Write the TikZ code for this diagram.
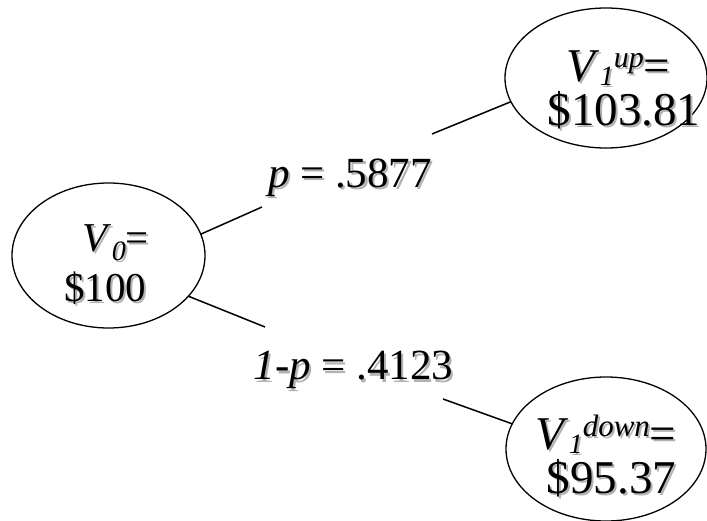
\documentclass[tikz,border=0pt]{standalone}
\usepackage{fontspec}
\setmainfont{Liberation Serif}
\usetikzlibrary{shapes.geometric}
\newcommand\shad[1]{\makebox[0pt][l]{\hspace{2pt}\raisebox{-2pt}{\textcolor{black!30}{#1}}}#1}
\newcommand\tline[3]{\makebox[0pt]{\hspace*{#1}\hspace*{#1}\raisebox{#2}{\shad{#3}}}}
\newcommand\lo[3]{\raisebox{-#1}{\fontsize{#2}{#2}\selectfont\itshape #3}}
\newcommand\hi[3]{\raisebox{#1}{\fontsize{#2}{#2}\selectfont\itshape #3}}
\begin{document}
\begin{tikzpicture}[x=1pt,y=-1pt,
  ell/.style={draw, line width=1.3pt, ellipse, inner sep=0pt, outer sep=0pt},
  lbl/.style={inner sep=0pt, anchor=base, font=\fontsize{43pt}{43pt}\selectfont},
  conn/.style={line width=1.5pt}]
\useasboundingbox (0,0) rectangle (707,521);
\node[ell, minimum width=193pt, minimum height=145pt,
  font=\fontsize{41pt}{41pt}\selectfont] (v0) at (108.5,255.5)
  {\smash{\tline{7.5pt}{4pt}{\textit{V}\lo{9pt}{28pt}{0}=}\tline{-3.5pt}{-46.5pt}{\$100}}};
\node[ell, minimum width=202pt, minimum height=140pt,
  font=\fontsize{47pt}{47pt}\selectfont] (v1u) at (606,78)
  {\smash{\tline{12.5pt}{-4pt}{\textit{V}\lo{4pt}{28pt}{1}\hi{14pt}{30pt}{up}=}\tline{18pt}{-48pt}{\$103.81}}};
\node[ell, minimum width=200pt, minimum height=144pt,
  font=\fontsize{47pt}{47pt}\selectfont] (v1d) at (606,449)
  {\smash{\tline{0pt}{0pt}{\textit{V}\lo{4pt}{28pt}{1}\hi{13pt}{31pt}{down}=}\tline{5.5pt}{-44pt}{\$95.37}}};
\node[lbl] (lp) at (350,188) {\shad{\textit{p} = .5877}};
\node[lbl] (lq) at (353.5,380) {\shad{\textit{1}-\textit{p} = .4123}};
\coordinate (a1) at (262,207);
\coordinate (a2) at (432,134);
\coordinate (b1) at (265,327);
\coordinate (b2) at (443,399);
\draw[conn] (v0.13.6) -- (a1);
\draw[conn] (a2) -- (v1u.194.6);
\draw[conn] (v0.-27.4) -- (b1);
\draw[conn] (b2) -- (v1d.165.7);
\end{tikzpicture}
\end{document}
